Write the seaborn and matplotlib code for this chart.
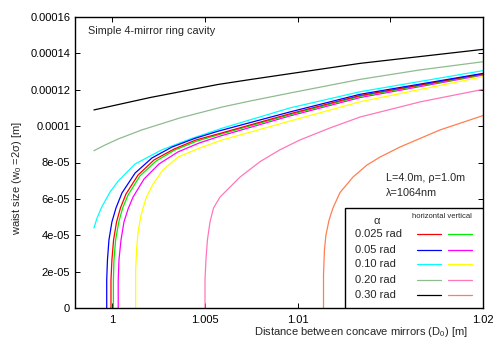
import numpy as np
import pandas as pd
import matplotlib
matplotlib.use("Agg")
import matplotlib.pyplot as plt
import seaborn as sns
from matplotlib.lines import Line2D
from matplotlib.patches import Rectangle

# ---- data (D0 in m, waist in units of 1e-5 m) ----
D_a025_h = [0.99994, 0.99994, 0.99999, 1.00008, 1.00024, 1.00045, 1.00075, 1.00140, 1.00226, 1.00334, 1.00452, 1.00582, 1.00959, 1.01337, 1.02000]
w_a025_h = [0, 1.54, 2.64, 3.74, 4.73, 5.50, 6.27, 7.31, 8.14, 8.74, 9.24, 9.60, 10.68, 11.68, 12.87]
D_a025_v = [1.00007, 1.00007, 1.00010, 1.00019, 1.00036, 1.00057, 1.00086, 1.00150, 1.00237, 1.00339, 1.00458, 1.00582, 1.00959, 1.01337, 1.02000]
w_a025_v = [0, 1.54, 2.64, 3.74, 4.73, 5.50, 6.21, 7.26, 8.08, 8.69, 9.18, 9.55, 10.63, 11.64, 12.84]
D_a05_h = [0.99971, 0.99971, 0.99975, 0.99983, 0.99999, 1.00021, 1.00053, 1.00124, 1.00215, 1.00323, 1.00447, 1.00571, 1.00959, 1.01337, 1.02000]
w_a05_h = [0, 1.54, 2.64, 3.74, 4.73, 5.50, 6.32, 7.42, 8.25, 8.85, 9.33, 9.72, 10.78, 11.75, 12.90]
D_a05_v = [1.00033, 1.00033, 1.00037, 1.00048, 1.00064, 1.00086, 1.00113, 1.00172, 1.00253, 1.00355, 1.00469, 1.00582, 1.00959, 1.01337, 1.02000]
w_a05_v = [0, 1.54, 2.64, 3.74, 4.73, 5.44, 6.10, 7.09, 7.92, 8.58, 9.07, 9.45, 10.56, 11.57, 12.81]
D_a10_h = [0.99902, 0.99919, 0.99944, 0.99989, 1.00033, 1.00124, 1.00267, 1.00420, 1.00598, 1.00959, 1.01337, 1.02000]
w_a10_h = [4.40, 4.95, 5.55, 6.38, 6.98, 7.92, 8.69, 9.29, 9.90, 11.00, 11.89, 13.05]
D_a10_v = [1.00127, 1.00127, 1.00132, 1.00140, 1.00156, 1.00183, 1.00221, 1.00274, 1.00355, 1.00474, 1.00593, 1.00959, 1.01337, 1.02000]
w_a10_v = [0, 2.09, 3.19, 4.18, 5.11, 6.05, 6.82, 7.59, 8.30, 8.80, 9.24, 10.28, 11.34, 12.72]
D_a20_h = [0.99902, 0.99962, 1.00032, 1.00160, 1.00366, 1.00593, 1.00744, 1.00959, 1.01337, 1.01660, 1.02000]
w_a20_h = [8.65, 8.96, 9.29, 9.79, 10.45, 11.05, 11.38, 11.82, 12.57, 13.09, 13.54]
D_a20_v = [1.00501, 1.00501, 1.00506, 1.00514, 1.00528, 1.00547, 1.00582, 1.00690, 1.00798, 1.00905, 1.01013, 1.01175, 1.01337, 1.01660, 1.02000]
w_a20_v = [0, 1.54, 2.64, 3.74, 4.73, 5.50, 6.10, 7.20, 8.05, 8.70, 9.24, 9.90, 10.50, 11.33, 12.02]
D_a30_h = [0.99902, 1.00204, 1.00571, 1.00744, 1.01337, 1.02000]
w_a30_h = [10.89, 11.57, 12.29, 12.56, 13.45, 14.22]
D_a30_v = [1.01140, 1.01140, 1.01145, 1.01153, 1.01170, 1.01191, 1.01229, 1.01299, 1.01374, 1.01445, 1.01552, 1.01768, 1.02000]
w_a30_v = [0, 1.81, 3.19, 4.01, 4.84, 5.50, 6.35, 7.20, 7.86, 8.30, 8.85, 9.79, 10.58]

alpha_labels = ["0.025 rad", "0.05 rad", "0.10 rad", "0.20 rad", "0.30 rad"]
x_ticks = [1.0, 1.005, 1.01, 1.015, 1.02]
x_tick_labels = ["1", "1.005", "1.01", "", "1.02"]
y_ticks = [0, 2e-5, 4e-5, 6e-5, 8e-5, 1e-4, 1.2e-4, 1.4e-4, 1.6e-4]
y_tick_labels = ["0", "2e-05", "4e-05", "6e-05", "8e-05", "0.0001", "0.00012", "0.00014", "0.00016"]

series = [
    ("0.025 h", D_a025_h, w_a025_h, "#ff0000"),
    ("0.025 v", D_a025_v, w_a025_v, "#00ee00"),
    ("0.05 h", D_a05_h, w_a05_h, "#0000ff"),
    ("0.05 v", D_a05_v, w_a05_v, "#ff00ff"),
    ("0.10 h", D_a10_h, w_a10_h, "#00ffff"),
    ("0.10 v", D_a10_v, w_a10_v, "#ffff00"),
    ("0.20 h", D_a20_h, w_a20_h, "#8fbc8f"),
    ("0.20 v", D_a20_v, w_a20_v, "#ff77bb"),
    ("0.30 h", D_a30_h, w_a30_h, "#000000"),
    ("0.30 v", D_a30_v, w_a30_v, "#ff7f50"),
]

rows = []
for name, D, w, _ in series:
    for i, (d, ww) in enumerate(zip(D, w)):
        rows.append({"curve": name, "D": d, "w": ww * 1e-5, "order": i})
df = pd.DataFrame(rows)
palette = {name: c for name, _, _, c in series}

sns.set_style("ticks")
plt.rcParams["font.family"] = ["Liberation Sans", "DejaVu Sans"]
plt.rcParams["mathtext.fontset"] = "custom"
plt.rcParams["mathtext.rm"] = "Liberation Sans"
plt.rcParams["mathtext.it"] = "Liberation Sans:italic"

fig = plt.figure(figsize=(4.96, 3.41), dpi=100)
ax = fig.add_axes([75 / 496, 33 / 341, 408 / 496, 291 / 341])

draw_order = ["0.30 h", "0.20 h", "0.10 h", "0.30 v", "0.20 v", "0.10 v",
              "0.05 v", "0.025 v", "0.025 h", "0.05 h"]
for name in draw_order:
    sub = df[df["curve"] == name].sort_values("order")
    sns.lineplot(data=sub, x="D", y="w", color=palette[name], estimator=None,
                 sort=False, linewidth=0.9, ax=ax, legend=False)

ax.set_xlim(0.998, 1.02)
ax.set_ylim(0, 1.6e-4)
ax.set_xticks(x_ticks)
ax.set_xticklabels(x_tick_labels)
ax.set_yticks(y_ticks)
ax.set_yticklabels(y_tick_labels)
ax.tick_params(direction="in", top=True, right=True, length=3.5, width=0.7,
               labelsize=8, colors="black")
ax.tick_params(axis="x", pad=5)
ax.tick_params(axis="y", pad=3.5)
for s in ax.spines.values():
    s.set_visible(True)
    s.set_color("black")
    s.set_linewidth(1.0)

ax.set_xlabel("Distance between concave mirrors (D$_0$) [m]", fontsize=8, va="center")
ax.set_ylabel("waist size (w$_0$ =2σ) [m]", fontsize=8, va="center")
ax.xaxis.set_label_coords((361 - 75) / 408, -24 / 291)
ax.yaxis.set_label_coords(-58 / 408, (308 - 178) / 291)

ax.text((88 - 75) / 408, (308 - 31.5) / 291, "Simple 4-mirror ring cavity",
        transform=ax.transAxes, fontsize=7.8, va="center", ha="left")
ax.text((386 - 75) / 408, (308 - 178) / 291, "L=4.0m, ρ=1.0m",
        transform=ax.transAxes, fontsize=7.8, va="center", ha="left")
ax.text((386 - 75) / 408, (308 - 192.5) / 291, "λ=1064nm",
        transform=ax.transAxes, fontsize=7.8, va="center", ha="left")

def fx(px):
    return (px - 75) / 408

def fy(py):
    return (308 - py) / 291

ax.add_patch(Rectangle((fx(345), 0), 1 - fx(345), fy(207.7), transform=ax.transAxes,
                       facecolor="white", edgecolor="black", linewidth=1.0, zorder=5))
ax.text(fx(376.7), fy(221), "α", transform=ax.transAxes, fontsize=8,
        ha="center", va="center", zorder=6)
ax.text(fx(441.7), fy(216.5), "horizontal vertical", transform=ax.transAxes,
        fontsize=5.5, ha="center", va="center", zorder=6)
leg_y = [234.3, 250, 264.3, 280, 295]
for i, lab in enumerate(alpha_labels):
    yy = fy(leg_y[i])
    ax.text(fx(355), yy, lab, transform=ax.transAxes, fontsize=8,
            ha="left", va="center", zorder=6)
    ch = series[2 * i][3]
    cv = series[2 * i + 1][3]
    ax.add_line(Line2D([fx(417.3), fx(440.7)], [yy, yy], color=ch, lw=0.9,
                       transform=ax.transAxes, zorder=6))
    ax.add_line(Line2D([fx(448.3), fx(471.7)], [yy, yy], color=cv, lw=0.9,
                       transform=ax.transAxes, zorder=6))

fig.savefig("out.png", dpi=100)
